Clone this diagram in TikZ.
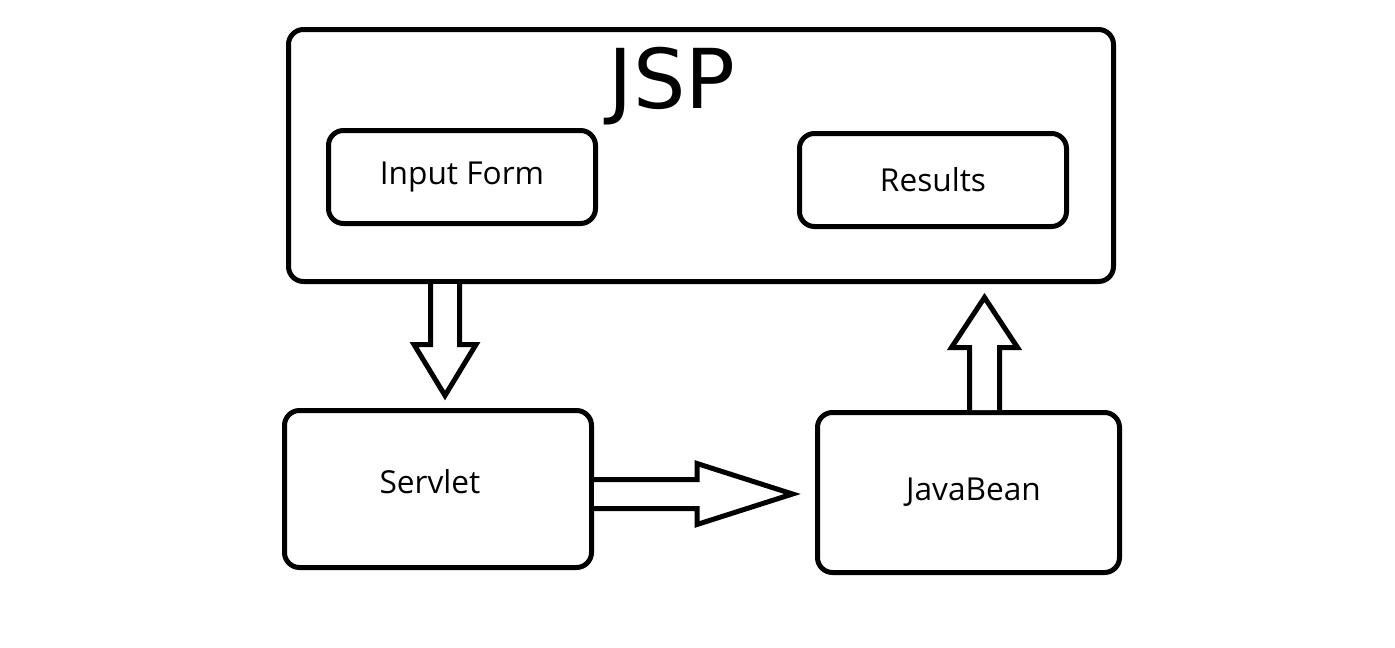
\documentclass[tikz,border=0pt]{standalone}
\usepackage{fontspec}
\setmainfont{Open Sans}
\newfontfamily\handfont{DejaVu Sans}
\usepackage{tikz}
\usetikzlibrary{positioning,calc}

\tikzset{
  box/.style={draw, line width=1mm, rounded corners=0.3cm, font=\fontsize{18}{21}\selectfont},
  fat/.style={draw, line width=1mm, line join=miter, fill=white}
}

\begin{document}
\begin{tikzpicture}
    \useasboundingbox (0,0) rectangle (27.9,-12.96);

    % JSP page with its two parts
    \node[box, minimum width=16.5cm, minimum height=5.04cm] (jsp) at (14.02,-3.11) {};
    \node[font=\handfont\fontsize{47}{52}\selectfont] (jsptitle) at (13.44,-1.72) {JSP};
    \node[box, minimum width=5.34cm, minimum height=1.86cm] (form) at (9.24,-3.54) {Input Form};
    \node[box, minimum width=5.34cm, minimum height=1.86cm] (results) at (18.66,-3.6) {Results};

    % lower row
    \node[box, minimum width=6.14cm, minimum height=3.14cm,
          label={[xshift=-0.16cm, yshift=0.15cm, font=\fontsize{18}{21}\selectfont]center:Servlet}] (servlet) at (8.76,-9.78) {};
    \node[box, minimum width=6.04cm, minimum height=3.2cm,
          label={[xshift=0.1cm, font=\fontsize{18}{21}\selectfont]center:JavaBean}] (javabean) at (19.37,-9.85) {};

    % JSP -> Servlet
    \draw[fat] ($(jsp.south)+(-5.12,0)$) coordinate (d0)
        ++(-0.29,0) -- ++(0,-1.21) -- ++(-0.33,0) -- ++(0.62,-1.02)
        -- ++(0.62,1.02) -- ++(-0.33,0) -- ++(0,1.21);

    % Servlet -> JavaBean
    \draw[fat] ($(servlet.east)+(0,-0.1)$) coordinate (r0)
        ++(0,0.29) -- ++(2.06,0) -- ++(0,0.32) -- ++(1.91,-0.61)
        -- ++(-1.91,-0.61) -- ++(0,0.32) -- ++(-2.06,0);

    % JavaBean -> JSP
    \draw[fat] ($(javabean.north)+(0.32,0)$) coordinate (u0)
        ++(-0.3,0) -- ++(0,1.25) -- ++(-0.36,0) -- ++(0.66,1.0)
        -- ++(0.66,-1.0) -- ++(-0.36,0) -- ++(0,-1.25);
\end{tikzpicture}
\end{document}
